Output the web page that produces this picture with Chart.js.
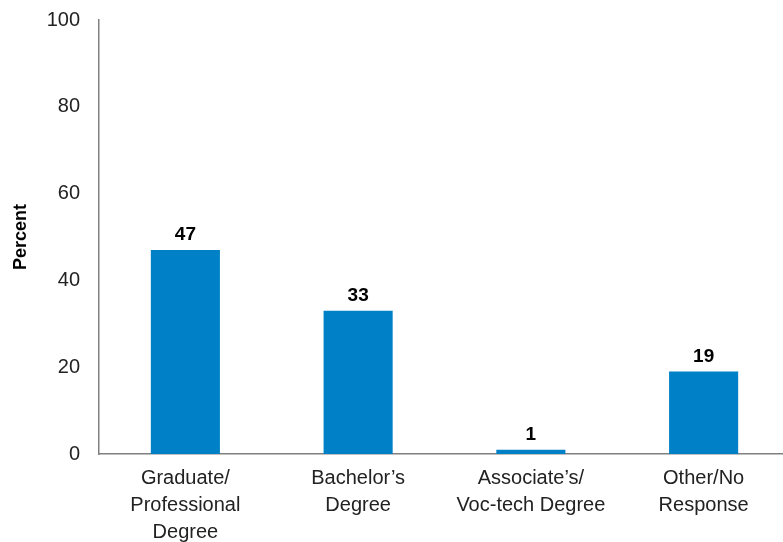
<!DOCTYPE html>
<html>
<head>
<meta charset="utf-8">
<script src="https://cdn.jsdelivr.net/npm/chart.js@4/dist/chart.umd.min.js"></script>
<style>
html,body{margin:0;padding:0;background:#fff;overflow:hidden;}
#wrap{width:791px;height:542px;position:relative;}
</style>
</head>
<body>
<div id="wrap"><canvas id="c" width="791" height="542"></canvas></div>
<script>
const categories = [["Graduate/","Professional","Degree"],["Bachelor\u2019s","Degree"],["Associate\u2019s/","Voc-tech Degree"],["Other/No","Response"]];
const values = [47, 33, 1, 19];
const yTicks = [0, 20, 40, 60, 80, 100];

const FONT = "'Liberation Sans', Arial, sans-serif";

const labelPlugin = {
  id: 'barLabels',
  afterDatasetsDraw(chart) {
    const ctx = chart.ctx;
    const meta = chart.getDatasetMeta(0);
    ctx.save();
    ctx.font = "bold 19px " + FONT;
    ctx.fillStyle = "#000";
    ctx.textAlign = "center";
    ctx.textBaseline = "alphabetic";
    meta.data.forEach((bar, i) => {
      ctx.fillText(String(values[i]), bar.x, bar.y - 10);
    });
    ctx.restore();
  }
};

new Chart(document.getElementById('c'), {
  type: 'bar',
  data: {
    labels: categories,
    datasets: [{
      data: values,
      backgroundColor: '#0080C6',
      barPercentage: 0.4,
      categoryPercentage: 1.0
    }]
  },
  options: {
    responsive: false,
    animation: false,
    layout: { padding: { top: 20, right: 1, left: 0, bottom: 0 } },
    plugins: { legend: { display: false }, tooltip: { enabled: false } },
    scales: {
      x: {
        grid: { display: false, drawTicks: false },
        border: { color: '#808080', width: 1.5 },
        ticks: {
          color: '#222',
          font: { family: FONT, size: 20, lineHeight: 1.35 },
          padding: 11,
          maxRotation: 0,
          autoSkip: false
        },
        afterFit(s) { s.height = 88; }
      },
      y: {
        min: 0, max: 100,
        afterBuildTicks(s) { s.ticks = yTicks.map(v => ({ value: v })); },
        grid: { display: false, drawTicks: false },
        border: { color: '#808080', width: 1.5 },
        ticks: {
          color: '#222',
          font: { family: FONT, size: 20 },
          padding: 19
        },
        title: {
          display: true,
          text: 'Percent',
          color: '#000',
          font: { family: FONT, size: 18, weight: 'bold' },
          padding: { top: 10, bottom: 0 }
        },
        afterFit(s) { s.width = 99; s.paddingTop = 0; s.paddingBottom = 0; }
      }
    }
  },
  plugins: [labelPlugin]
});
</script>
</body>
</html>
